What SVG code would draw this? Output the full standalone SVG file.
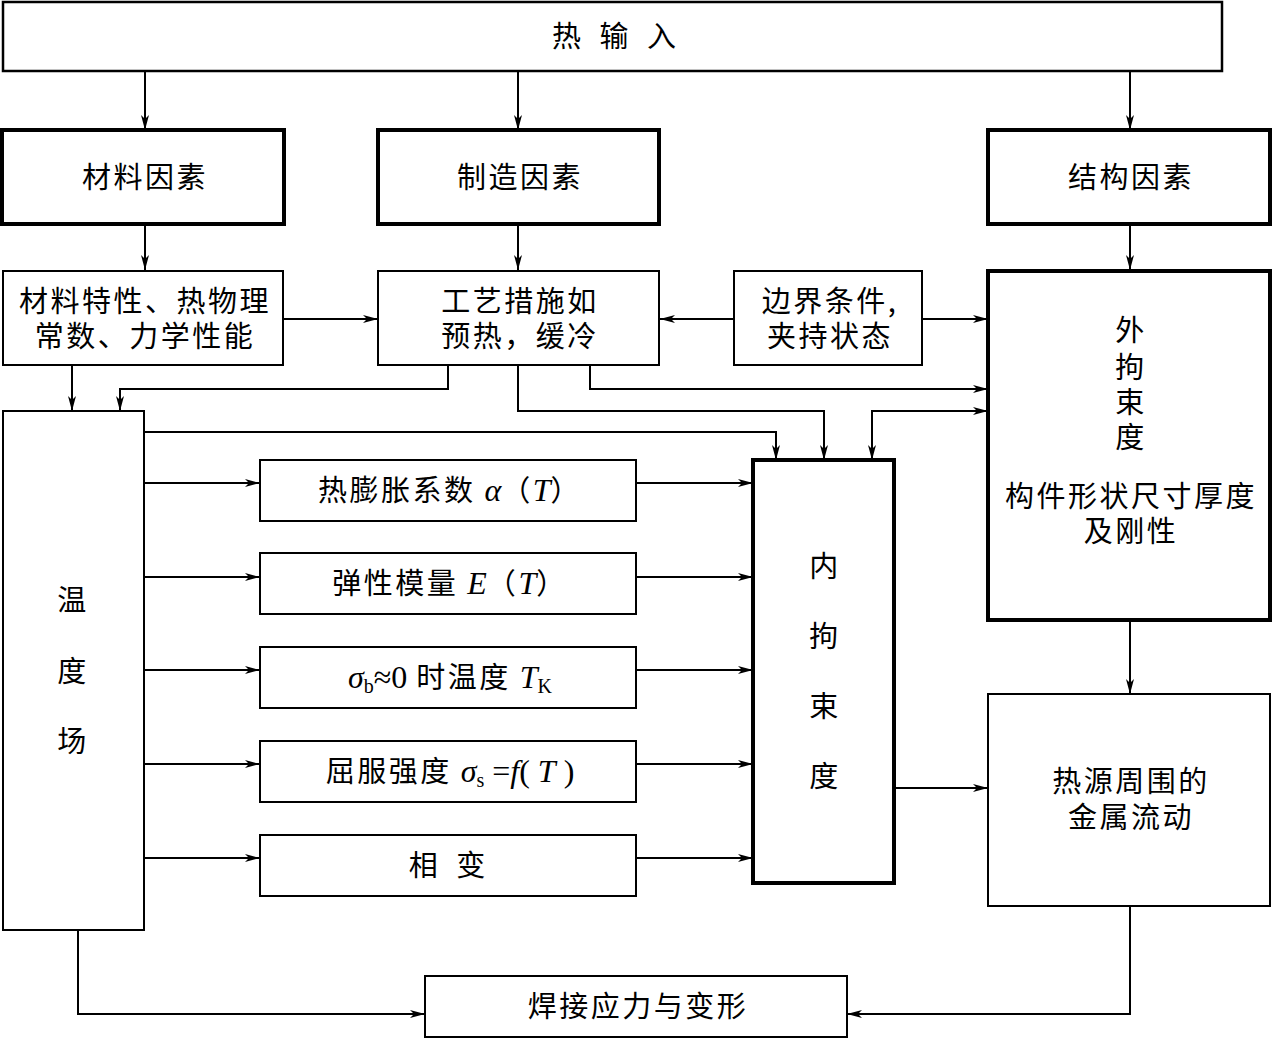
<svg xmlns="http://www.w3.org/2000/svg" width="1272" height="1039" viewBox="0 0 1272 1039">
<defs>
<marker id="ah" markerUnits="userSpaceOnUse" markerWidth="16" markerHeight="10" refX="15" refY="4" orient="auto-start-reverse">
<path d="M0,0 L15,4 L0,8 L4,4 Z" fill="#000"/>
</marker>
</defs>
<style>
.thin{fill:#fff;stroke:#000;stroke-width:2}
.thick{fill:#fff;stroke:#000;stroke-width:4}
.t{font-family:"Noto Sans CJK SC","Noto Sans",sans-serif;font-size:29px;fill:#000;text-anchor:middle;letter-spacing:2.5px}
.m{font-family:"Liberation Serif",serif;font-style:italic;font-size:32px;letter-spacing:0}
.r{font-family:"Liberation Serif",serif;font-size:32px;letter-spacing:0}
.s{font-family:"Liberation Serif",serif;font-size:20px;letter-spacing:0}
.c{fill:none;stroke:#000;stroke-width:2}
.ca{fill:none;stroke:#000;stroke-width:2;marker-end:url(#ah)}
</style>
<rect width="1272" height="1039" fill="#fff"/>
<g id="connectors">
<path class="ca" d="M145,71 V130"/>
<path class="ca" d="M518,71 V130"/>
<path class="ca" d="M1130,71 V130"/>
<path class="ca" d="M145,224 V270"/>
<path class="ca" d="M518,224 V270"/>
<path class="ca" d="M1130,224 V270"/>
<path class="ca" d="M283,319 H378"/>
<path class="ca" d="M734,319 H660"/>
<path class="ca" d="M922,319 H988"/>
<path class="ca" d="M72,365 V411"/>
<path class="ca" d="M448,365 V389 H120 V411"/>
<path class="ca" d="M590,365 V389 H988"/>
<path class="ca" d="M518,365 V411 H824 V460"/>
<path class="ca" d="M872,460 V411 H988" style="marker-start:url(#ah)"/>
<path class="ca" d="M144,432 H776 V460"/>
<path class="ca" d="M144,483 H260"/>
<path class="ca" d="M144,577 H260"/>
<path class="ca" d="M144,670 H260"/>
<path class="ca" d="M144,764 H260"/>
<path class="ca" d="M144,858 H260"/>
<path class="ca" d="M636,483 H753"/>
<path class="ca" d="M636,577 H753"/>
<path class="ca" d="M636,670 H753"/>
<path class="ca" d="M636,764 H753"/>
<path class="ca" d="M636,858 H753"/>
<path class="ca" d="M894,788 H988"/>
<path class="ca" d="M1130,620 V694"/>
<path class="ca" d="M78,930 V1014 H425"/>
<path class="ca" d="M1130,906 V1014 H847"/>
</g>
<g id="n-heat-input"><rect class="thin" x="3" y="2" width="1219" height="69" style="stroke-width:2.5"/><text class="t" x="617" y="47" style="letter-spacing:6px">热 输 入</text></g>
<g id="n-material"><rect class="thick" x="2" y="130" width="282" height="94"/><text class="t" x="145" y="188">材料因素</text></g>
<g id="n-manufacture"><rect class="thick" x="378" y="130" width="281" height="94"/><text class="t" x="520" y="188">制造因素</text></g>
<g id="n-structure"><rect class="thick" x="988" y="130" width="282" height="94"/><text class="t" x="1131" y="188">结构因素</text></g>
<g id="n-mat-props"><rect class="thin" x="3" y="271" width="280" height="94"/><text class="t" x="145" y="312">材料特性、热物理</text><text class="t" x="145" y="347">常数、力学性能</text></g>
<g id="n-process"><rect class="thin" x="378" y="271" width="281" height="94"/><text class="t" x="520" y="312">工艺措施如</text><text class="t" x="520" y="347">预热，缓冷</text></g>
<g id="n-boundary"><rect class="thin" x="734" y="271" width="188" height="94"/><text class="t" x="830" y="312">边界条件,</text><text class="t" x="830" y="347">夹持状态</text></g>
<g id="n-external"><rect class="thick" x="988" y="271" width="282" height="349"/>
<text class="t" x="1131" y="341">外</text><text class="t" x="1131" y="378">拘</text><text class="t" x="1131" y="413">束</text><text class="t" x="1131" y="448">度</text>
<text class="t" x="1131" y="507">构件形状尺寸厚度</text><text class="t" x="1131" y="542">及刚性</text></g>
<g id="n-temp"><rect class="thin" x="3" y="411" width="141" height="519"/>
<text class="t" x="73" y="611">温</text><text class="t" x="73" y="682">度</text><text class="t" x="73" y="752">场</text></g>
<g id="n-alpha"><rect class="thin" x="260" y="460" width="376" height="61"/><text class="t" x="450" y="501">热膨胀系数 <tspan class="m">α</tspan>（<tspan class="m">T</tspan>）</text></g>
<g id="n-E"><rect class="thin" x="260" y="553" width="376" height="61"/><text class="t" x="450" y="594">弹性模量 <tspan class="m">E</tspan>（<tspan class="m">T</tspan>）</text></g>
<g id="n-TK"><rect class="thin" x="260" y="647" width="376" height="61"/><text class="t" x="450" y="688"><tspan class="m">σ</tspan><tspan class="s" dy="5">b</tspan><tspan class="r" dy="-5">≈0</tspan> 时温度 <tspan class="m">T</tspan><tspan class="s" dy="5">K</tspan></text></g>
<g id="n-yield"><rect class="thin" x="260" y="741" width="376" height="61"/><text class="t" x="450" y="782">屈服强度 <tspan class="m">σ</tspan><tspan class="s" dy="5">s</tspan><tspan class="r" dy="-5"> =</tspan><tspan class="m">f</tspan><tspan class="r">( </tspan><tspan class="m">T</tspan><tspan class="r"> )</tspan></text></g>
<g id="n-phase"><rect class="thin" x="260" y="835" width="376" height="61"/><text class="t" x="450" y="876" style="letter-spacing:6px">相 变</text></g>
<g id="n-internal"><rect class="thick" x="753" y="460" width="141" height="423"/>
<text class="t" x="825" y="577">内</text><text class="t" x="825" y="647">拘</text><text class="t" x="825" y="717">束</text><text class="t" x="825" y="787">度</text></g>
<g id="n-flow"><rect class="thin" x="988" y="694" width="282" height="212"/><text class="t" x="1131" y="792">热源周围的</text><text class="t" x="1131" y="828">金属流动</text></g>
<g id="n-result"><rect class="thin" x="425" y="976" width="422" height="61"/><text class="t" x="638" y="1017">焊接应力与变形</text></g>
</svg>
